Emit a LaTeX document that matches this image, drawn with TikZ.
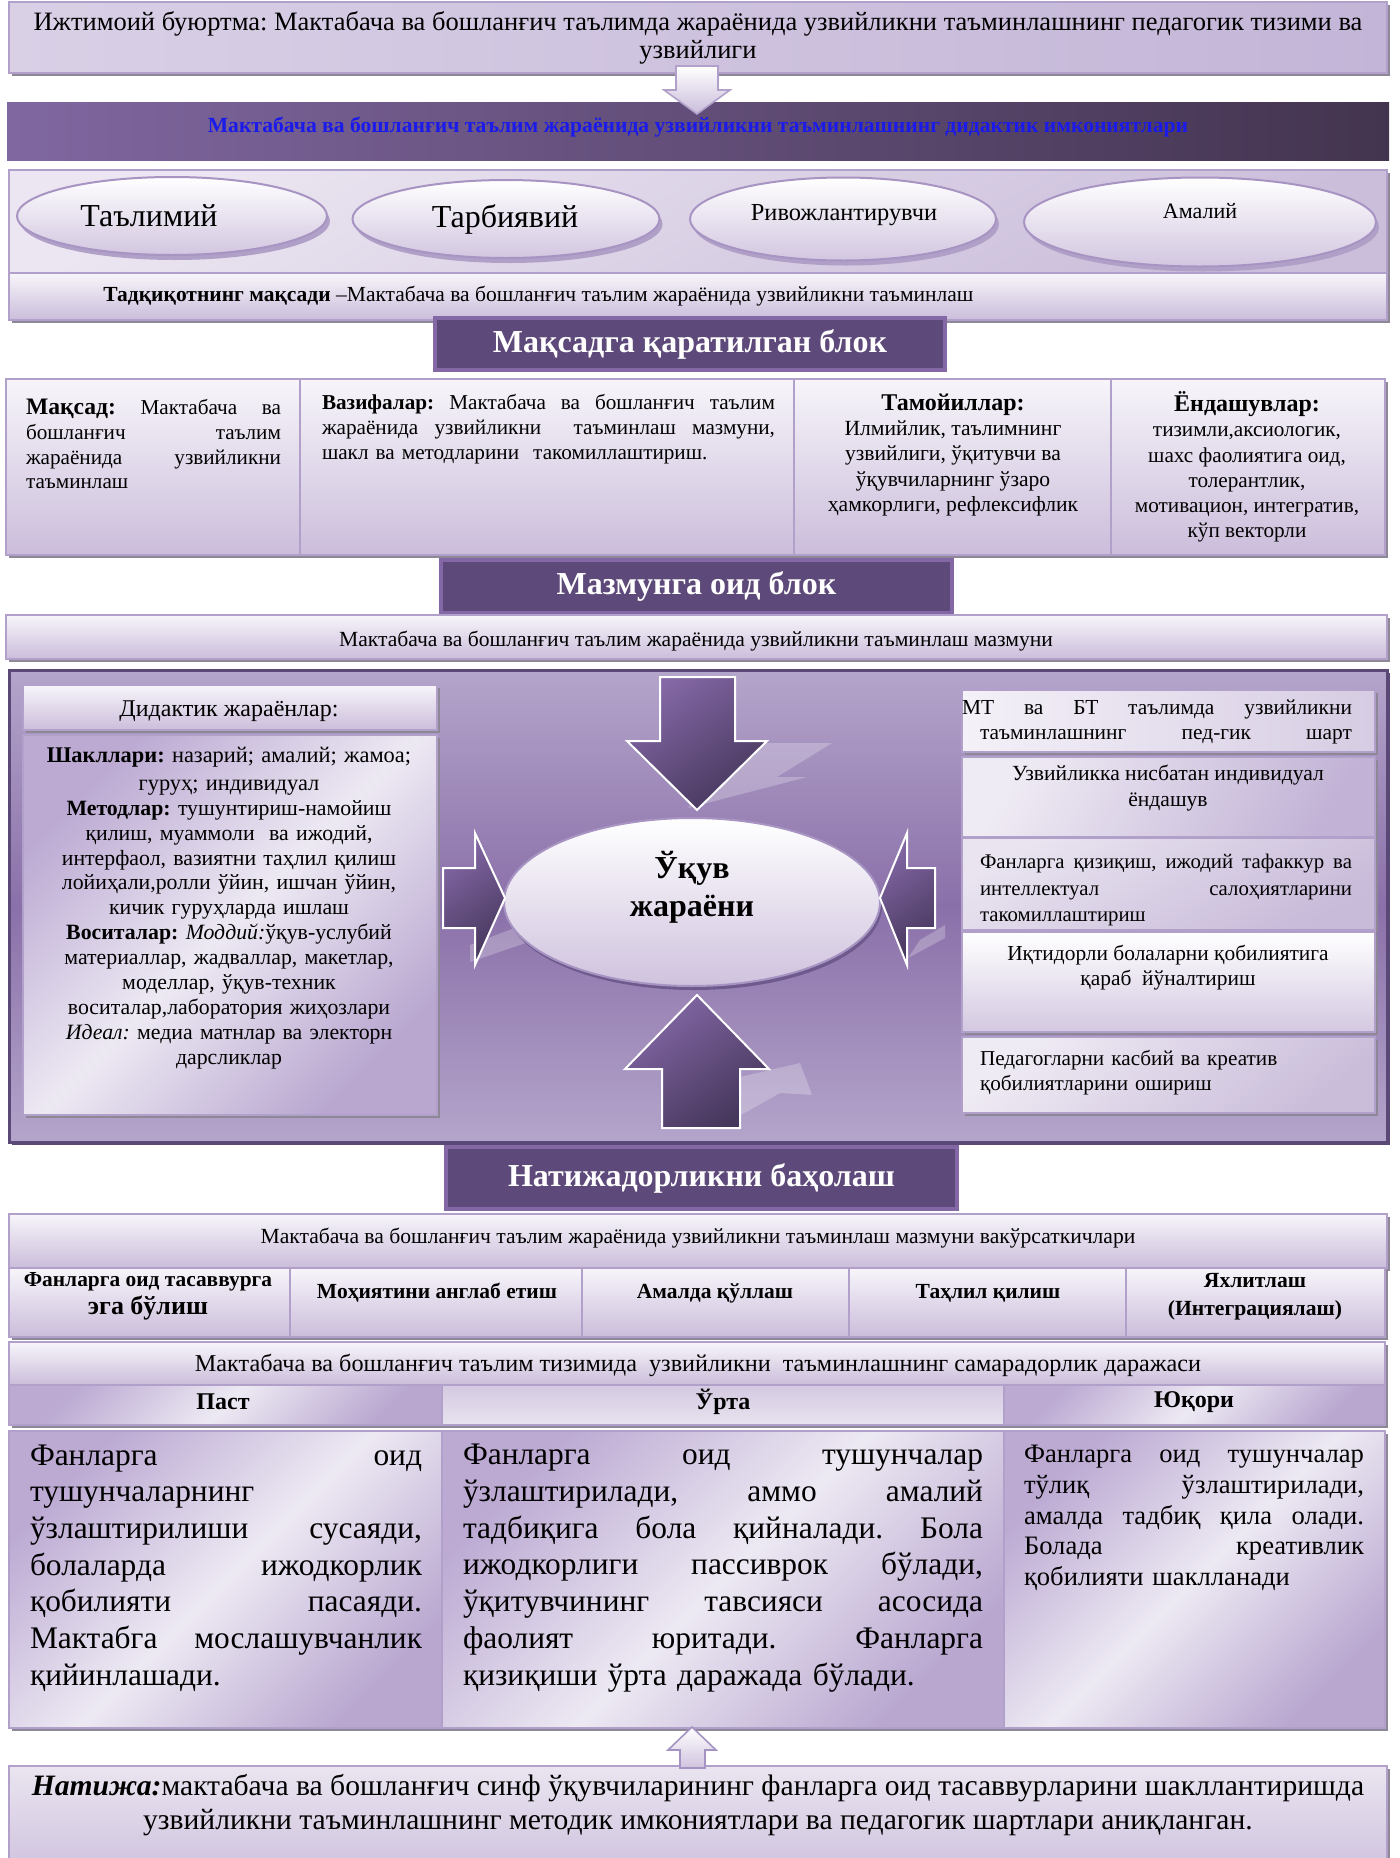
\documentclass[tikz,border=0pt]{standalone}
\usepackage{fontspec}
\setmainfont{Liberation Serif}
\usetikzlibrary{shapes.geometric,shadows,fit}
\definecolor{lavtop}{HTML}{F7F5FA}
\definecolor{lavbot}{HTML}{CBBDDB}
\definecolor{lavborder}{HTML}{B0A0CA}
\definecolor{shadowgray}{HTML}{8E8896}
\definecolor{diagA}{HTML}{BCAAD3}
\definecolor{diagM}{HTML}{EDE9F3}
\definecolor{diagB}{HTML}{B9A7D0}
\definecolor{ovalborder}{HTML}{A794C2}
\definecolor{ovalbot}{HTML}{D2C6E0}
\definecolor{ovalshadow}{HTML}{B0A0C8}
\definecolor{hdrfill}{HTML}{5E4A7A}
\definecolor{hdrborder}{HTML}{8468A6}
\definecolor{barA}{HTML}{8067A0}
\definecolor{barB}{HTML}{43344F}
\definecolor{panelA}{HTML}{B4A5CB}
\definecolor{panelM}{HTML}{8A70A9}
\definecolor{panelborder}{HTML}{5A4976}
\definecolor{arrA}{HTML}{8468A6}
\definecolor{arrB}{HTML}{45365B}
\definecolor{bluetext}{RGB}{26,26,235}
\definecolor{hD9D0E6}{HTML}{D9D0E6}
\definecolor{hC3B5D7}{HTML}{C3B5D7}
\definecolor{hC9BCDA}{HTML}{C9BCDA}
\definecolor{hEBE6F1}{HTML}{EBE6F1}
\definecolor{hCBBEDB}{HTML}{CBBEDB}
\definecolor{hCFC2DE}{HTML}{CFC2DE}
\definecolor{h6E5A8C}{HTML}{6E5A8C}
\definecolor{hF4F1F8}{HTML}{F4F1F8}
\definecolor{hD6CCE3}{HTML}{D6CCE3}
\definecolor{hEFEBF4}{HTML}{EFEBF4}
\definecolor{hC2B3D6}{HTML}{C2B3D6}
\definecolor{hE9E4F0}{HTML}{E9E4F0}
\definecolor{hC8BAD9}{HTML}{C8BAD9}
\definecolor{hD3C8E1}{HTML}{D3C8E1}
\definecolor{hCABDDA}{HTML}{CABDDA}
\definecolor{hD4C9E1}{HTML}{D4C9E1}
\definecolor{hE8E3EF}{HTML}{E8E3EF}
\definecolor{hEAE5F0}{HTML}{EAE5F0}
\definecolor{hCDC0DD}{HTML}{CDC0DD}
\definecolor{hA594C3}{HTML}{A594C3}
\definecolor{hD0C4DF}{HTML}{D0C4DF}
\newlength\jw
\newcommand\jl[1]{{\spaceskip=0pt\xspaceskip=0pt\makebox[\jw][s]{#1}}\\}
\newcommand\jlast[1]{{\spaceskip=0pt\xspaceskip=0pt\makebox[\jw][s]{#1}}}
\tikzset{
  shad/.style={drop shadow={shadow xshift=1.5pt,shadow yshift=-1.5pt,fill=shadowgray,opacity=1}},
  lightbox/.style={shad, draw=lavborder, line width=1pt, top color=lavtop, bottom color=lavbot, inner sep=0pt},
  diagbox/.style={shad, draw=lavborder, line width=1pt, top color=diagA, bottom color=diagB, middle color=diagM, shading angle=45, inner sep=0pt},
  hdrbox/.style={draw=hdrborder, line width=2pt, fill=hdrfill, inner sep=0pt, drop shadow={shadow xshift=1pt,shadow yshift=-1pt,fill=shadowgray,opacity=1}},
  hdrtext/.style={text=white, font=\fontsize{16}{18}\selectfont\bfseries, inner sep=0pt},
  oval/.style={ellipse, draw=ovalborder, line width=1pt, top color=white, bottom color=ovalbot, inner sep=0pt, drop shadow={shadow xshift=1.5pt,shadow yshift=-2.5pt,fill=ovalshadow,opacity=1}},
  txt/.style={inner sep=0pt, text=black},
  bigarrow/.style={draw=white, line width=1pt, top color=arrA, bottom color=arrB, shading angle=35},
  gleam/.style={fill=white, opacity=0.24},
}
\begin{document}
\frenchspacing
\begin{tikzpicture}[x=0.5pt,y=-0.5pt]
\useasboundingbox (0,0) rectangle (1400,1858);
\clip (0,0) rectangle (1400,1858);
\fill[white] (0,0) rectangle (1400,1858);

% ---------- top ----------
\node[shad, draw=lavborder, line width=1pt, left color=hD9D0E6, right color=hC3B5D7, inner sep=0pt, fit={(9,2) (1387,73)}] (social) {};
\node[txt, font=\fontsize{13.25}{14.2}\selectfont, align=center] (socialT) at (698,38) {Ижтимоий буюртма: Мактабача ва бошланғич таълимда жараёнида узвийликни таъминлашнинг педагогик тизими ва\\узвийлиги};

\node[inner sep=0pt, left color=barA, right color=barB, fit={(7,102) (1389,160)}] (bar) {};
\node[txt, text=bluetext, font=\fontsize{10.8}{12}\selectfont\bfseries] (barT) at (698,127) {Мактабача ва бошланғич таълим жараёнида узвийликни таъминлашнинг дидактик имкониятлари};

\coordinate (a1tip) at (697,114);
\filldraw[draw=lavborder, line width=0.8pt, top color=white, bottom color=hC9BCDA] (676,66) -- (718,66) -- (718,90) -- (730,90) -- (a1tip) -- (664,90) -- (676,90) -- cycle;

% ---------- ellipses block ----------
\node[shad, draw=lavborder, line width=1pt, top color=hEBE6F1, bottom color=hCBBEDB, shading angle=30, inner sep=0pt, fit={(9,170) (1387,273)}] (kindsBox) {};
\node[oval, minimum width=155pt, minimum height=39pt] (e1) at (172,216) {};
\node[oval, minimum width=153.5pt, minimum height=39pt] (e2) at (506,219) {};
\node[oval, minimum width=153pt, minimum height=41.5pt] (e3) at (843,219) {};
\node[oval, minimum width=176pt, minimum height=44.5pt] (e4) at (1200,222) {};
\node[txt, font=\fontsize{16}{18}\selectfont] (e1T) at (149,216) {Таълимий};
\node[txt, font=\fontsize{16}{18}\selectfont] (e2T) at (505,219) {Тарбиявий};
\node[txt, font=\fontsize{12.2}{14}\selectfont] (e3T) at (844,215) {Ривожлантирувчи};
\node[txt, font=\fontsize{11}{13}\selectfont] (e4T) at (1200,211) {Амалий};

\node[lightbox, fit={(9,273) (1387,320)}] (aimStrip) {};
\node[txt, anchor=west, font=\fontsize{10.75}{12}\selectfont] (aimT) at (103,296) {\textbf{Тадқиқотнинг мақсади} –Мактабача ва бошланғич таълим жараёнида узвийликни таъминлаш};

% ---------- header 1 ----------
\node[hdrbox, fit={(435,318) (945,370)}] (h1) {};
\node[hdrtext] (h1T) at (h1.center) {Мақсадга қаратилган блок};

% ---------- four boxes ----------
\node[lightbox, fit={(6,379) (300,555)}] (b1) {};
\node[lightbox, fit={(300,379) (794,555)}] (b2) {};
\node[lightbox, fit={(794,379) (1111,555)}] (b3) {};
\node[lightbox, fit={(1111,379) (1385,555)}] (b4) {};

\node[txt, text width=127.5pt, align=left, font=\fontsize{10.6}{12.4}\selectfont] (b1T) at (153.5,444) {\jw=127.5pt\jl{{\fontsize{11.8}{12.4}\selectfont\bfseries Мақсад:} Мактабача ва}\jl{бошланғич таълим}\jl{жараёнида узвийликни}таъминлаш};
\node[txt, text width=226.5pt, align=left, font=\fontsize{10.6}{12.4}\selectfont] (b2T) at (548.5,429) {\jw=226.5pt\jl{\textbf{Вазифалар:} Мактабача ва бошланғич таълим}\jl{жараёнида узвийликни \ таъминлаш мазмуни,}шакл ва методларини \ такомиллаштириш.};
\node[txt, align=center, font=\fontsize{10.8}{12.6}\selectfont] (b3T) at (953,455) {{\fontsize{12}{12.6}\selectfont\bfseries Тамойиллар:}\\Илмийлик, таълимнинг\\узвийлиги, ўқитувчи ва\\ўқувчиларнинг ўзаро\\ҳамкорлиги, рефлексифлик};
\node[txt, align=center, font=\fontsize{10.6}{12.6}\selectfont] (b4T) at (1247,467) {{\fontsize{12}{12.6}\selectfont\bfseries Ёндашувлар:}\\тизимли,аксиологик,\\шахс фаолиятига оид,\\толерантлик,\\мотивацион, интегратив,\\кўп векторли};

% ---------- header 2 ----------
\node[hdrbox, fit={(441,560) (952,613)}] (h2) {};
\node[hdrtext] (h2T) at (h2.center) {Мазмунга оид блок};
\node[lightbox, fit={(6,615) (1387,659)}] (contStrip) {};
\node[txt, font=\fontsize{10.8}{12}\selectfont] (contT) at (696,641) {Мактабача ва бошланғич таълим жараёнида узвийликни таъминлаш мазмуни};

% ---------- central panel ----------
\node[draw=panelborder, line width=1.5pt, top color=panelA, bottom color=panelA, middle color=panelM, inner sep=0pt, drop shadow={shadow xshift=1.5pt,shadow yshift=-1.5pt,fill=panelborder,opacity=1}, fit={(9,670) (1387,1142)}] (panel) {};

\fill[gleam] (688,808) -- (807,777) -- (777,777) -- (832,743) -- (760,743) -- (720,770) -- cycle;
\fill[gleam] (470,962) -- (558,932) -- (577,900) -- (528,913) -- (517,927) -- (470,945) -- cycle;
\fill[gleam] (723,1125) -- (780,1093) -- (812,1095) -- (800,1063) -- (727,1080) -- cycle;
\fill[gleam] (908,958) -- (945,938) -- (945,925) -- (920,940) -- cycle;

\node[lightbox, fit={(23,685) (437,730)}] (didH) {};
\node[txt, font=\fontsize{12}{13}\selectfont] (didHT) at (229,711) {Дидактик жараёнлар:};
\node[diagbox, fit={(23,735) (437,1115)}] (didC) {};
\node[txt, text width=205pt, align=center, font=\fontsize{10.9}{12.45}\selectfont] (didCT) at (229,908) {{\fontsize{11.2}{12.45}\selectfont\textbf{Шакллари:} назарий; амалий; жамоа;}\\[1.5pt]{\fontsize{11.2}{12.45}\selectfont гуруҳ; индивидуал}\\\textbf{Методлар:} тушунтириш-намойиш\\қилиш, муаммоли \ ва ижодий,\\интерфаол, вазиятни таҳлил қилиш\\лойиҳали,ролли ўйин, ишчан ўйин,\\кичик гуруҳларда ишлаш\\\textbf{Воситалар:} \textit{Моддий:}ўқув-услубий\\материаллар, жадваллар, макетлар,\\моделлар, ўқув-техник\\воситалар,лаборатория жиҳозлари\\\textit{Идеал:} медиа матнлар ва электорн\\дарсликлар};

% ellipse and arrows
\node[ellipse, draw=ovalborder, line width=1pt, top color=white, bottom color=hCFC2DE, inner sep=0pt, minimum width=188pt, minimum height=84pt, drop shadow={shadow xshift=1pt,shadow yshift=-2pt,fill=h6E5A8C,opacity=1}] (study) at (692,902) {};
\node[txt, align=center, font=\fontsize{16}{19}\selectfont\bfseries] (studyT) at (692,887) {Ўқув\\жараёни};

\coordinate (topTip) at (697,810);
\coordinate (botTip) at (697,995);
\coordinate (leftTip) at (505,898);
\coordinate (rightTip) at (880,898);
\filldraw[bigarrow] (660,677) -- (735,677) -- (735,741) -- (767,741) -- (topTip) -- (627,741) -- (660,741) -- cycle;
\filldraw[bigarrow] (botTip) -- (769,1069) -- (740,1069) -- (740,1128) -- (662,1128) -- (662,1069) -- (625,1069) -- cycle;
\filldraw[bigarrow] (443,868) -- (475,868) -- (475,833) -- (leftTip) -- (475,965) -- (475,928) -- (443,928) -- cycle;
\filldraw[bigarrow] (935,868) -- (907,868) -- (907,833) -- (rightTip) -- (907,965) -- (907,928) -- (935,928) -- cycle;

% right column
\node[shad, draw=lavborder, line width=0.8pt, left color=hF4F1F8, right color=hD6CCE3, inner sep=0pt, fit={(962,690) (1375,752)}] (r1) {};
\node[shad, draw=lavborder, line width=0.8pt, top color=hEFEBF4, bottom color=hC2B3D6, shading angle=60, inner sep=0pt, fit={(962,757) (1375,837)}] (r2) {};
\node[shad, draw=lavborder, line width=0.8pt, top color=hE9E4F0, bottom color=hC8BAD9, shading angle=30, inner sep=0pt, fit={(962,838) (1375,930)}] (r3) {};
\node[shad, draw=lavborder, line width=0.8pt, top color=white, bottom color=hD3C8E1, inner sep=0pt, fit={(962,932) (1375,1032)}] (r4) {};
\node[shad, draw=lavborder, line width=0.8pt, top color=hEFEBF4, bottom color=hCABDDA, shading angle=40, inner sep=0pt, fit={(962,1037) (1375,1113)}] (r5) {};

\node[txt, text width=186pt, align=left, font=\fontsize{10.7}{12.6}\selectfont] (r1T) at (1166,722) {\jw=195pt\hspace*{-9pt}\jl{МТ ва БТ таълимда узвийликни}\jw=186pt\jlast{таъминлашнинг пед-гик шарт}};
\node[txt, align=center, font=\fontsize{10.8}{12.6}\selectfont] (r2T) at (1168,788) {Узвийликка нисбатан индивидуал\\ёндашув};
\node[txt, text width=186pt, align=left, font=\fontsize{10.4}{13.2}\selectfont] (r3T) at (1166,890) {\jw=186pt\jl{Фанларга қизиқиш, ижодий тафаккур ва}\jl{интеллектуал салоҳиятларини}такомиллаштириш};
\node[txt, align=center, font=\fontsize{10.7}{12.6}\selectfont] (r4T) at (1168,968) {Иқтидорли болаларни қобилиятига\\қараб \ йўналтириш};
\node[txt, text width=186pt, align=left, font=\fontsize{10.6}{12.6}\selectfont] (r5T) at (1166,1073) {Педагогларни касбий ва креатив\\қобилиятларини ошириш};

% ---------- header 3 ----------
\node[hdrbox, fit={(446,1147) (957,1209)}] (h3) {};
\node[hdrtext] (h3T) at (h3.center) {Натижадорликни баҳолаш};

\node[lightbox, fit={(9,1214) (1387,1268)}] (indStrip) {};
\node[txt, font=\fontsize{10.8}{12}\selectfont] (indT) at (698,1238) {Мактабача ва бошланғич таълим жараёнида узвийликни таъминлаш мазмуни вакўрсаткичлари};
\node[lightbox, fit={(9,1268) (290,1337)}] (c1) {};
\node[lightbox, fit={(290,1268) (582,1337)}] (c2) {};
\node[lightbox, fit={(582,1268) (849,1337)}] (c3) {};
\node[lightbox, fit={(849,1268) (1126,1337)}] (c4) {};
\node[lightbox, fit={(1126,1268) (1385,1337)}] (c5) {};
\node[txt, align=center, font=\fontsize{10.7}{14}\selectfont\bfseries] (c1T) at (148,1296) {Фанларга оид тасаввурга\\{\fontsize{13}{14}\selectfont эга бўлиш}};
\node[txt, font=\fontsize{10.75}{12}\selectfont\bfseries] (c2T) at (437,1293) {Моҳиятини англаб етиш};
\node[txt, font=\fontsize{10.75}{12}\selectfont\bfseries] (c3T) at (715,1293) {Амалда қўллаш};
\node[txt, font=\fontsize{10.75}{12}\selectfont\bfseries] (c4T) at (988,1293) {Таҳлил қилиш};
\node[txt, align=center, font=\fontsize{10.8}{14}\selectfont\bfseries] (c5T) at (1255,1297) {Яхлитлаш\\(Интеграциялаш)};

\node[lightbox, fit={(9,1342) (1385,1385)}] (effStrip) {};
\node[txt, font=\fontsize{12.1}{13}\selectfont] (effT) at (698,1365) {Мактабача ва бошланғич таълим тизимида \ узвийликни \ таъминлашнинг самарадорлик даражаси};

\node[diagbox, fit={(9,1385) (442,1425)}] (lv1) {};
\node[lightbox, top color=hD4C9E1, bottom color=hE8E3EF, fit={(442,1385) (1004,1425)}] (lv2) {};
\node[diagbox, fit={(1004,1385) (1385,1425)}] (lv3) {};
\node[txt, font=\fontsize{12}{14}\selectfont\bfseries] (lv1T) at (223,1402) {Паст};
\node[txt, font=\fontsize{12}{14}\selectfont\bfseries] (lv2T) at (723,1402) {Ўрта};
\node[txt, font=\fontsize{12}{14}\selectfont\bfseries] (lv3T) at (1194,1402) {Юқори};

\node[diagbox, fit={(9,1431) (442,1728)}] (d1) {};
\node[diagbox, fit={(442,1431) (1004,1728)}] (d2) {};
\node[diagbox, fit={(1004,1431) (1385,1728)}] (d3) {};
\node[txt, text width=196pt, align=left, font=\fontsize{15.7}{18.35}\selectfont] (d1T) at (226,1568) {\jw=196pt\jl{Фанларга оид}тушунчаларнинг\\\jl{ўзлаштирилиши сусаяди,}\jl{болаларда ижодкорлик}\jl{қобилияти пасаяди.}\jl{Мактабга мослашувчанлик}қийинлашади.};
\node[txt, text width=260pt, align=left, font=\fontsize{15.7}{18.35}\selectfont] (d2T) at (723,1568) {\jw=260pt\jl{Фанларга оид тушунчалар}\jl{ўзлаштирилади, аммо амалий}\jl{тадбиқига бола қийналади. Бола}\jl{ижодкорлиги пассиврок бўлади,}\jl{ўқитувчининг тавсияси асосида}\jl{фаолият юритади. Фанларга}қизиқиши ўрта даражада бўлади.};
\node[txt, text width=170pt, align=left, font=\fontsize{13.3}{15.4}\selectfont] (d3T) at (1194,1518) {\jw=170pt\jl{Фанларга оид тушунчалар}\jl{тўлиқ ўзлаштирилади,}\jl{амалда тадбиқ қила олади.}\jl{Болада креативлик}қобилияти шаклланади};

% ---------- result ----------
\node[shad, draw=lavborder, line width=1pt, top color=hEAE5F0, bottom color=hCDC0DD, inner sep=0pt, fit={(9,1766) (1387,1880)}] (result) {};
\coordinate (a2tip) at (692,1727);
\filldraw[draw=hA594C3, line width=0.8pt, top color=white, bottom color=hD0C4DF] (a2tip) -- (716,1750) -- (705,1750) -- (705,1768) -- (680,1768) -- (680,1750) -- (668,1750) -- cycle;
\node[txt, align=center, font=\fontsize{14.8}{17}\selectfont] (resultT) at (698,1805) {\textbf{\textit{Натижа:}}мактабача ва бошланғич синф ўқувчиларининг фанларга оид тасаввурларини шакллантиришда\\узвийликни таъминлашнинг методик имкониятлари ва педагогик шартлари аниқланган.};
\end{tikzpicture}
\end{document}
